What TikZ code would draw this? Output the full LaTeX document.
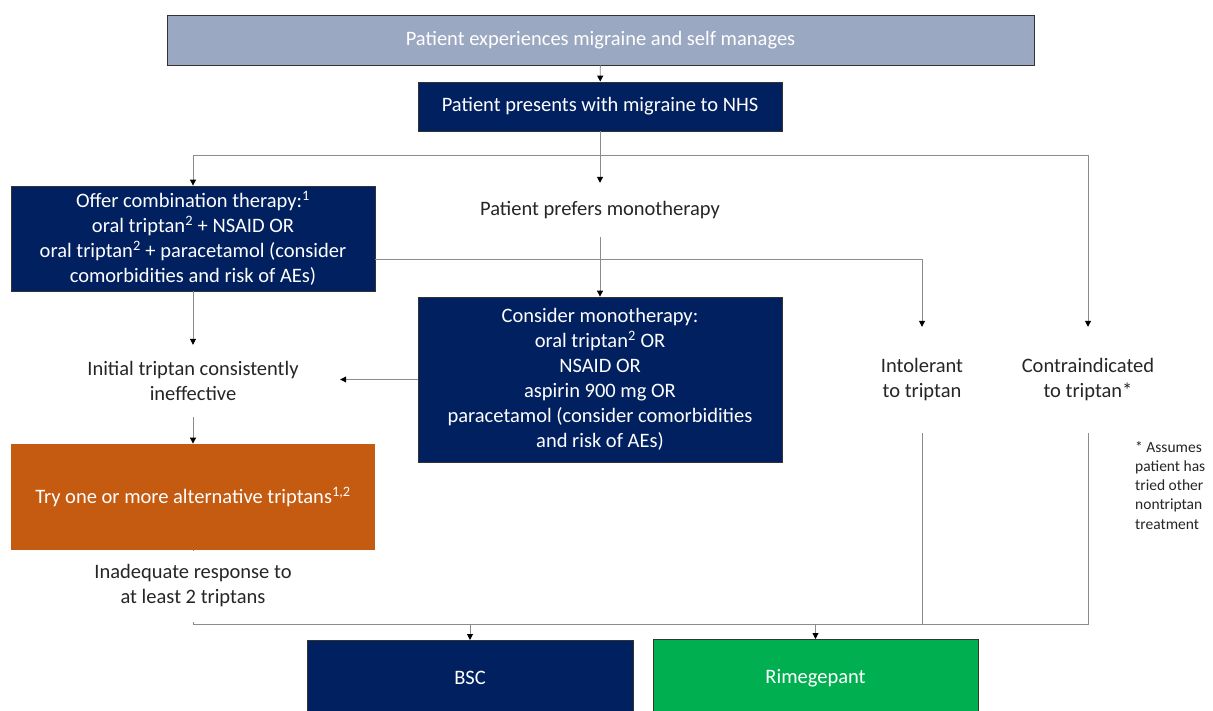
\documentclass[tikz,border=0pt]{standalone}
\usepackage{fontspec}
\setmainfont{Carlito}
\usetikzlibrary{arrows.meta}
\definecolor{topfill}{RGB}{155,168,194}
\definecolor{navy}{RGB}{0,32,96}
\definecolor{rust}{RGB}{197,90,17}
\definecolor{grn}{RGB}{0,176,80}
\definecolor{conn}{RGB}{140,140,140}
\tikzset{
  box/.style={draw=black!80, line width=0.8pt, text=white, align=center, inner sep=0pt,
    font=\fontsize{20.5}{25}\selectfont},
  plain/.style={align=center, inner sep=0pt, text=black!85, font=\fontsize{20.5}{25}\selectfont},
  link/.style={draw=conn, line width=0.9pt},
  arr/.style={link, -{Triangle[length=6pt,width=6pt,fill=black,color=black]}},
}
\begin{document}
\begin{tikzpicture}[x=1pt,y=-1pt]
\clip (0,0) rectangle (1213,711);
\fill[white] (0,0) rectangle (1213,711);

\node[box, fill=topfill, minimum width=867pt, minimum height=50pt] (top) at (600.5,40) {Patient experiences migraine and self manages};
\node[box, fill=navy, minimum width=364pt, minimum height=49pt] (nhs) at (600,106.5) {Patient presents with migraine to NHS};
\node[plain, minimum width=300pt, minimum height=54pt] (prefer) at (600,210) {Patient prefers monotherapy};
\node[box, fill=navy, minimum width=364pt, minimum height=105pt] (combo) at (193,238.5) {Offer combination therapy:\textsuperscript{1}\\oral triptan\textsuperscript{2} + NSAID OR\\oral triptan\textsuperscript{2} + paracetamol (consider\\comorbidities and risk of AEs)};
\node[box, fill=navy, minimum width=364pt, minimum height=165pt] (mono) at (600,379.5) {Consider monotherapy:\\oral triptan\textsuperscript{2} OR\\NSAID OR\\aspirin 900 mg OR\\paracetamol (consider comorbidities\\and risk of AEs)};
\node[plain, minimum width=294pt, minimum height=72pt] (initial) at (193,381) {Initial triptan consistently\\ineffective};
\node[box, draw=none, fill=rust, minimum width=364pt, minimum height=106pt] (try) at (193,497) {Try one or more alternative triptans\textsuperscript{1,2}};
\node[plain, minimum width=260pt, minimum height=72pt] (inadequate) at (193,586) {Inadequate response to\\at least 2 triptans};
\node[plain, minimum width=140pt, minimum height=106pt] (intol) at (922,380) {Intolerant\\to triptan};
\node[plain, minimum width=160pt, minimum height=106pt] (contra) at (1088,380) {Contraindicated\\to triptan*};
\node[align=left, anchor=north west, inner sep=0pt, text=black!85, font=\fontsize{15.5}{19.2}\selectfont] (note) at (1135,441) {* Assumes\\patient has\\tried other\\nontriptan\\treatment};
\node[box, fill=navy, minimum width=326pt, minimum height=90pt, anchor=north] (bsc) at (470,640) {};
\node[box, fill=grn, minimum width=325pt, minimum height=90pt, anchor=north] (rime) at (815.5,639) {};
\node[text=white, font=\fontsize{20.5}{25}\selectfont, inner sep=0pt] (bsct) at (470,678) {BSC};
\node[text=white, font=\fontsize{20.5}{25}\selectfont, inner sep=0pt] (rimet) at (815.5,678) {Rimegepant};

\coordinate (j1) at (600,155);
\coordinate (jb) at (193,624);
\coordinate (jr) at (1088,624);

\draw[arr] (top) -- (nhs);
\draw[arr] (nhs) -- (prefer);
\draw[arr] (j1) -| (combo.north);
\draw[arr] (j1) -| (contra.north);
\draw[arr] (prefer) -- (mono);
\draw[arr] ([yshift=-20.5pt]combo.east) -| (intol.north);
\draw[arr] (combo) -- (initial);
\draw[arr] (mono.west) -- (mono.west -| initial.east);
\draw[arr] (initial) -- (try);
\draw[link] (try) -- (inadequate);
\draw[link] (inadequate.south) -- (jb) -- (jr) -- (contra.south);
\draw[link] (intol.south) -- (intol.south |- jb);
\draw[arr] (bsc.north |- jb) -- (bsc.north);
\draw[arr] (rime.north |- jb) -- (rime.north);
\end{tikzpicture}
\end{document}
